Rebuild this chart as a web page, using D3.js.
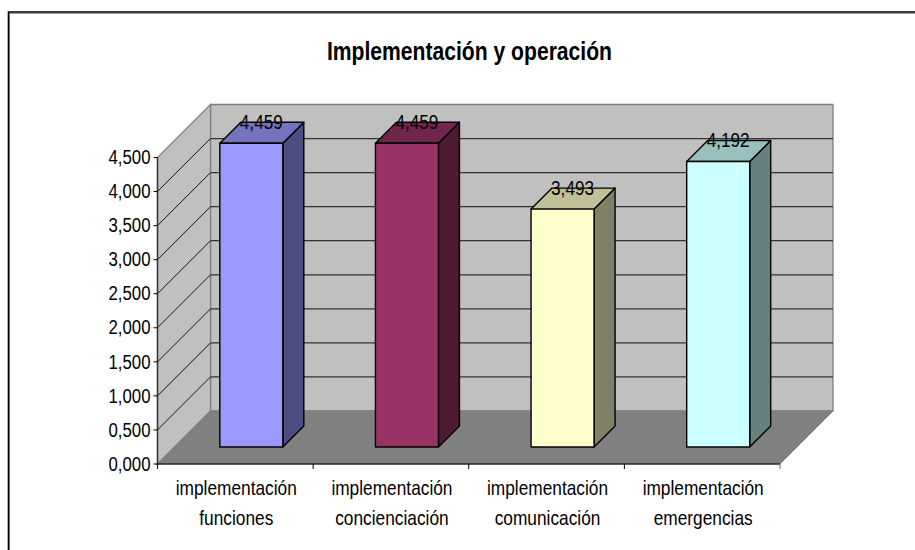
<!DOCTYPE html>
<html><head><meta charset="utf-8">
<script src="https://cdnjs.cloudflare.com/ajax/libs/d3/7.8.5/d3.min.js"></script>
<style>html,body{margin:0;padding:0;background:#fff}svg{display:block}text{font-family:"Liberation Sans",Arial,sans-serif;fill:#000}</style>
</head><body><svg id="c" width="915" height="550"></svg>
<script>
const title = "Implementación y operación";
const categories = [["implementación","funciones"],["implementación","concienciación"],["implementación","comunicación"],["implementación","emergencias"]];
const values = [4.459,4.459,3.493,4.192];
const valueLabels = ["4,459","4,459","3,493","4,192"];
const yTicks = [0,0.5,1,1.5,2,2.5,3,3.5,4,4.5];
const frontColors = ["#9999ff","#993366","#ffffcc","#ccffff"];
const topColors = ["#7373bf","#73264d","#bfbf99","#99bfbf"];
const sideColors = ["#4d4d80","#4d1a33","#808066","#668080"];

const svg = d3.select("#c");
const idx = categories.map((d,i)=>i);
const x = d3.scaleBand().domain(idx).range([157.5,780]).paddingInner(0).paddingOuter(0);
const y = d3.scaleLinear().domain([0,4.5]).range([464,157.5]);
const depth = 53, barDepth = 21, barOffset = 16, barW = 63;
const fmt = v => d3.format(".3f")(v).replace(".",",");

// frame: only top and left edges are visible in the reference
svg.append("path").attr("d","M9.5,550V13.5H915").attr("fill","none").attr("stroke","#999").attr("stroke-width",1);
svg.append("path").attr("d","M8.5,550V12H915").attr("fill","none").attr("stroke","#000").attr("stroke-width",1.6);

const pts = a => a.map(p=>p.join(",")).join(" ");
const xL=x.range()[0], xR=x.range()[1], y0=y(0), yT=y(4.5);
svg.append("polygon").attr("points",pts([[xL+depth,y0-depth],[xR+depth,y0-depth],[xR+depth,yT-depth],[xL+depth,yT-depth]])).attr("fill","#c0c0c0").attr("stroke","#808080").attr("stroke-width",1.3);
svg.append("polygon").attr("points",pts([[xL,y0],[xL+depth,y0-depth],[xL+depth,yT-depth],[xL,yT]])).attr("fill","#c0c0c0").attr("stroke","#808080").attr("stroke-width",1.3);
svg.append("polygon").attr("points",pts([[xL,y0],[xR,y0],[xR+depth,y0-depth],[xL+depth,y0-depth]])).attr("fill","#808080").attr("stroke","#808080").attr("stroke-width",1);
// gridlines
yTicks.filter(t=>t>0&&t<4.5).forEach(t=>{
  svg.append("line").attr("x1",xL).attr("y1",y(t)).attr("x2",xL+depth).attr("y2",y(t)-depth).attr("stroke","#000").attr("stroke-width",.9);
  svg.append("line").attr("x1",xL+depth).attr("y1",y(t)-depth).attr("x2",xR+depth).attr("y2",y(t)-depth).attr("stroke","#333").attr("stroke-width",1.2);
});
// axes
svg.append("line").attr("x1",xL).attr("x2",xL).attr("y1",yT).attr("y2",y0+1).attr("stroke","#333").attr("stroke-width",1.4);
svg.append("line").attr("x1",xL-1).attr("x2",xR).attr("y1",y0).attr("y2",y0).attr("stroke","#000").attr("stroke-width",1.2);
yTicks.forEach(t=>{
  svg.append("line").attr("x1",xL-4).attr("x2",xL).attr("y1",y(t)).attr("y2",y(t)).attr("stroke","#000");
  svg.append("text").attr("x",xL-7).attr("y",y(t)+6.7).attr("text-anchor","end").attr("font-size",20).attr("textLength",42).attr("lengthAdjust","spacingAndGlyphs").text(fmt(t));
});
d3.range(5).forEach(i=>{
  const px = i<4 ? x(i) : xR;
  svg.append("line").attr("x1",px).attr("x2",px).attr("y1",y0).attr("y2",y0+5).attr("stroke",i==4?"#666":"#000");
});
// bars
idx.forEach(i=>{
  const l = x(i)+x.bandwidth()/2-barW/2+barOffset, r=l+barW;
  const b = y(0)-17, t = y(values[i])-17;
  const st={stroke:"#000","stroke-width":1.4,"stroke-linejoin":"round"};
  const g=svg.append("g");
  const add=(p,f)=>{const e=g.append("polygon").attr("points",pts(p)).attr("fill",f);Object.entries(st).forEach(([k,v])=>e.attr(k,v));};
  add([[r,b],[r+barDepth,b-barDepth],[r+barDepth,t-barDepth],[r,t]],sideColors[i]);
  add([[l,t],[l+barDepth,t-barDepth],[r+barDepth,t-barDepth],[r,t]],topColors[i]);
  add([[l,t],[r,t],[r,b],[l,b]],frontColors[i]);
  svg.append("text").attr("x",l+barW/2+10).attr("y",t-14).attr("text-anchor","middle").attr("font-size",20).attr("textLength",43).attr("lengthAdjust","spacingAndGlyphs").text(valueLabels[i]);
  const cx=x(i)+x.bandwidth()/2+1;
  categories[i].forEach((s,j)=>{
    svg.append("text").attr("x",cx).attr("y",495+j*30).attr("text-anchor","middle").attr("font-size",20).attr("transform",`translate(${cx},0) scale(.865,1) translate(${-cx},0)`).text(s);
  });
});
svg.append("text").attr("x",469.5).attr("y",60).attr("text-anchor","middle").attr("font-size",25).attr("font-weight","bold").attr("transform","translate(469.5,0) scale(.845,1) translate(-469.5,0)").text(title);
</script></body></html>
